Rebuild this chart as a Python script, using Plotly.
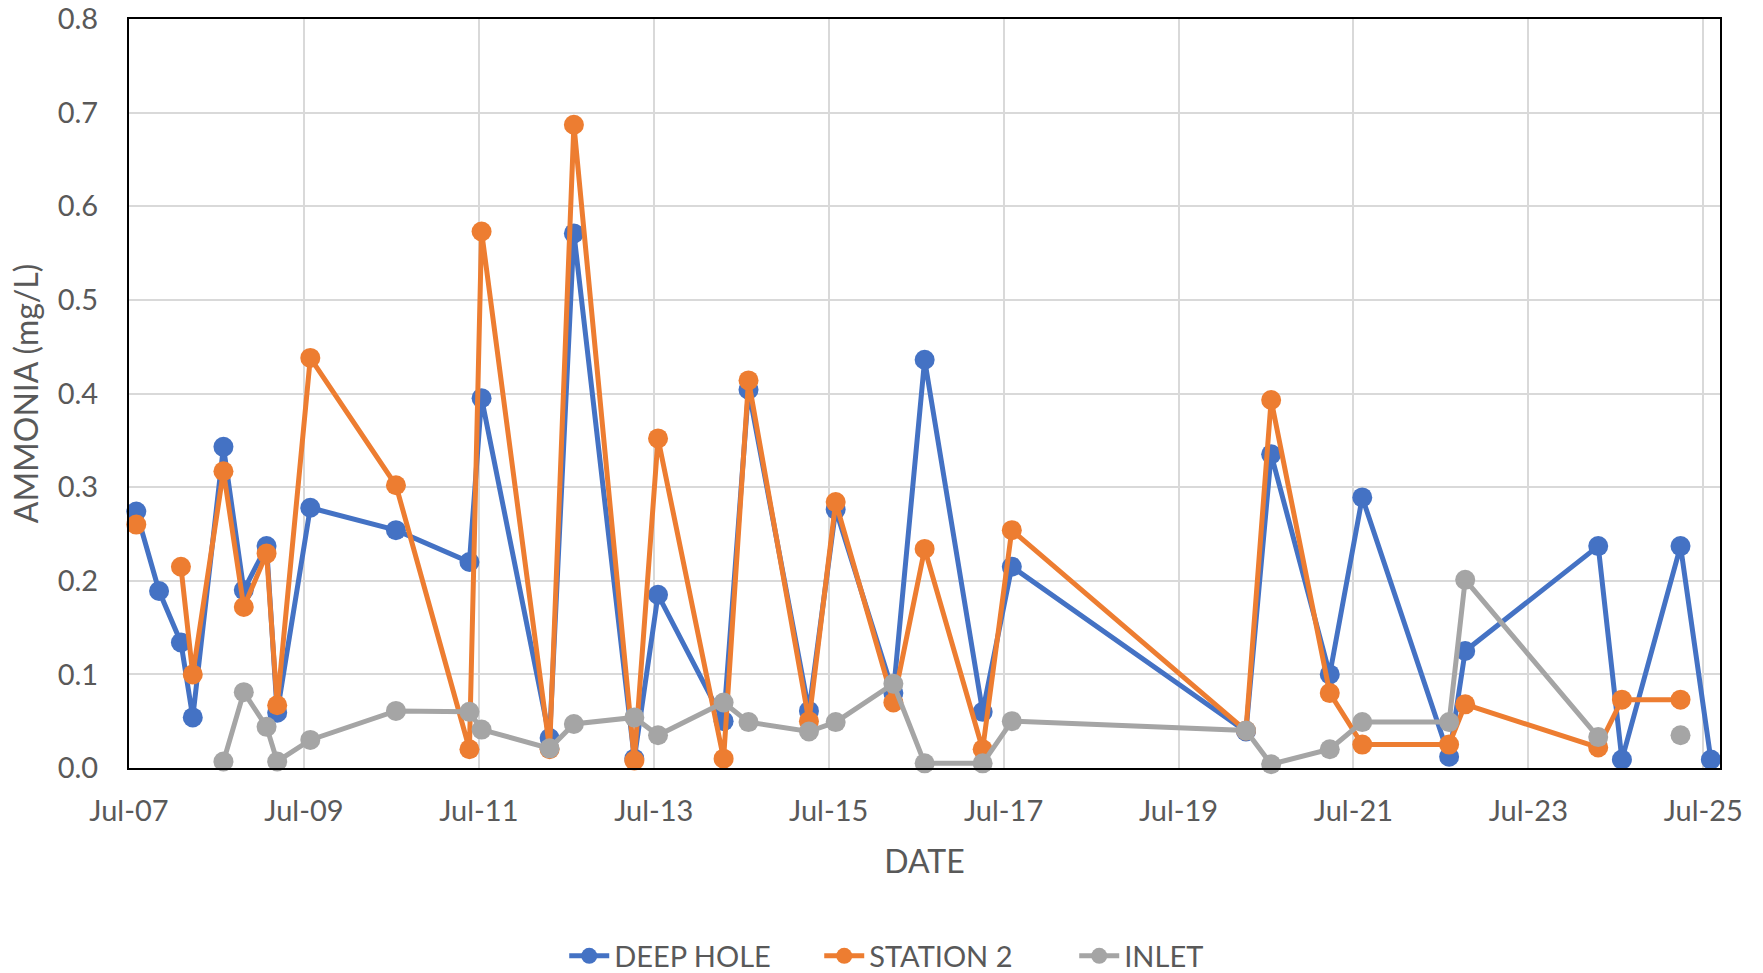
import plotly.graph_objects as go

dates = [
    "2021-07-07 02:00", "2021-07-07 08:15", "2021-07-07 14:15", "2021-07-07 17:30",
    "2021-07-08 01:55", "2021-07-08 07:30", "2021-07-08 13:45", "2021-07-08 16:40",
    "2021-07-09 01:45", "2021-07-10 01:15", "2021-07-10 21:25", "2021-07-11 00:45",
    "2021-07-11 19:25", "2021-07-12 02:05", "2021-07-12 18:40", "2021-07-13 01:10",
    "2021-07-13 19:10", "2021-07-14 02:00", "2021-07-14 18:35", "2021-07-15 01:55",
    "2021-07-15 17:45", "2021-07-16 02:20", "2021-07-16 18:15", "2021-07-17 02:15",
    "2021-07-19 18:30", "2021-07-20 01:25", "2021-07-20 17:30", "2021-07-21 02:25",
    "2021-07-22 02:15", "2021-07-22 06:40", "2021-07-23 19:10", "2021-07-24 01:40",
    "2021-07-24 17:45", "2021-07-25 02:05",
]

deep_hole = [0.274, 0.189, 0.134, 0.054, 0.343, 0.190, 0.237, 0.059, 0.278, 0.254,
             0.220, 0.395, 0.032, 0.571, 0.010, 0.185, 0.050, 0.404, 0.061, 0.276,
             0.080, 0.436, 0.060, 0.215, 0.039, 0.335, 0.100, 0.289, 0.012, 0.125,
             0.237, 0.009, 0.237, 0.009]

station_2 = [0.260, None, 0.215, 0.100, 0.317, 0.172, 0.229, 0.067, 0.438, 0.302,
             0.020, 0.573, 0.020, 0.687, 0.008, 0.352, 0.010, 0.414, 0.050, 0.284,
             0.070, 0.234, 0.020, 0.254, 0.040, 0.393, 0.080, 0.025, 0.025, 0.068,
             0.022, 0.073, 0.073, None]

inlet = [None, None, None, None, 0.007, 0.081, 0.044, 0.007, 0.030, 0.061,
         0.060, 0.041, 0.021, 0.047, 0.054, 0.035, 0.070, 0.049, 0.039, 0.049,
         0.090, 0.005, 0.005, 0.050, 0.040, 0.004, 0.020, 0.049, 0.049, 0.201,
         0.033, None, 0.035, None]

series_names = ["DEEP HOLE", "STATION 2", "INLET"]
series_colors = ["#4472C4", "#ED7D31", "#A5A5A5"]

FONT = "Lato"
TXT = "#595959"

fig = go.Figure()
for name, vals, col in zip(series_names, [deep_hole, station_2, inlet], series_colors):
    fig.add_trace(go.Scatter(
        x=dates, y=vals, name=name, mode="lines+markers",
        line=dict(color=col, width=5),
        marker=dict(color=col, size=20),
        cliponaxis=False, connectgaps=False,
    ))

fig.update_layout(
    width=1763, height=973,
    margin=dict(l=129, r=43, t=19, b=205),
    paper_bgcolor="white", plot_bgcolor="white",
    font=dict(family=FONT, size=29, color=TXT),
    showlegend=True,
    legend=dict(
        orientation="h", xref="container", yref="container",
        x=0.537, xanchor="center", y=0.0175, yanchor="middle",
        font=dict(family=FONT, size=29, color=TXT),
        itemwidth=40, traceorder="normal",
        entrywidth=200, entrywidthmode="pixels",
    ),
)

fig.update_xaxes(
    type="date",
    range=["2021-07-07 00:00", "2021-07-25 04:35"],
    tick0="2021-07-07", dtick=2 * 86400000, tickformat="%b-%d",
    showgrid=True, gridcolor="#D9D9D9", gridwidth=1.5,
    showline=True, linecolor="black", linewidth=2, mirror=True,
    ticks="", ticklabelstandoff=16, automargin=False, ticklabeloverflow="allow",
    tickfont=dict(family=FONT, size=29, color=TXT),
    title=dict(text="DATE", font=dict(family=FONT, size=32, color=TXT), standoff=25),
    zeroline=False,
)

fig.update_yaxes(
    range=[0, 0.8], dtick=0.1, tick0=0, tickformat=".1f",
    showgrid=True, gridcolor="#D9D9D9", gridwidth=1.5,
    showline=True, linecolor="black", linewidth=2, mirror=True,
    ticks="", ticklabelstandoff=23, automargin=False, ticklabeloverflow="allow",
    tickfont=dict(family=FONT, size=29, color=TXT),
    title=dict(text="AMMONIA (mg/L)", font=dict(family=FONT, size=32, color=TXT), standoff=10),
    zeroline=False,
)

fig.write_html(
    "out.html",
    config={"displayModeBar": False},
    post_script="document.body.style.margin='0';",
)
